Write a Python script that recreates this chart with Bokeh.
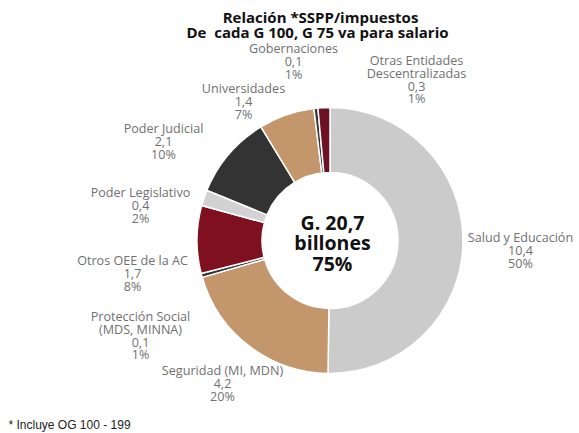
import math
from bokeh.plotting import figure
from bokeh.models import ColumnDataSource
from bokeh.core.properties import value
from bokeh.embed import file_html
from bokeh.resources import INLINE

# ---- data ----
categories = ["Salud y Educación", "Seguridad (MI, MDN)", "Protección Social\n(MDS, MINNA)",
              "Otros OEE de la AC", "Poder Legislativo", "Poder Judicial", "Universidades",
              "Gobernaciones", "Otras Entidades\nDescentralizadas"]
values = [10.4, 4.2, 0.1, 1.7, 0.4, 2.1, 1.4, 0.1, 0.3]
percents = [50, 20, 1, 8, 2, 10, 7, 1, 1]
colors = ["#cbcbcb", "#c3976b", "#333333", "#7e1020", "#d2d2d2", "#333333", "#c3976b",
          "#333333", "#6e1124"]
center_lines = ["G. 20,7", "billones", "75%"]
title_lines = ["Relación *SSPP/impuestos", "De\u00a0 cada G 100, G 75 va para salario"]
footnote = "* Incluye OG 100 - 199"

W, H = 579, 433
def X(px): return px
def Y(py): return H - py

total = sum(values)
starts, ends = [], []
cum = 0.0
for v in values:
    a0 = math.pi / 2 - 2 * math.pi * cum / total
    cum += v
    a1 = math.pi / 2 - 2 * math.pi * cum / total
    starts.append(a1)
    ends.append(a0)

src = ColumnDataSource(dict(cat=categories, val=values, start=starts, end=ends, color=colors))

p = figure(width=W, height=H, x_range=(0, W), y_range=(0, H), output_backend="svg",
           toolbar_location=None, min_border=0)
p.axis.visible = False
p.grid.visible = False
p.outline_line_color = None
p.background_fill_color = "white"

cx, cy = X(329.5), Y(240)
p.annular_wedge(x=cx, y=cy, inner_radius=68, outer_radius=133, start_angle="start",
                end_angle="end", fill_color="color", line_color="white", line_width=1.5,
                source=src)

# labels: (center x, top line y) in image pixels
label_pos = [(520, 237), (222, 370), (140, 316), (132, 260), (140, 192), (163, 128),
             (243, 88), (293, 48), (416, 60)]
lx, ly, lt = [], [], []
for cat, v, pc, (px, py) in zip(categories, values, percents, label_pos):
    lines = cat.split("\n") + [f"{v:.1f}".replace(".", ","), f"{pc}%"]
    for i, ln in enumerate(lines):
        lx.append(X(px))
        ly.append(Y(py + i * 12.8))
        lt.append(ln)
p.text(x=lx, y=ly, text=lt, text_font=value("Open Sans"), text_font_size="12.6px",
       text_color="#707070", text_align="center", text_baseline="middle")

# center text
p.text(x=[X(332)] * 3, y=[Y(222), Y(242), Y(263)], text=center_lines,
       text_font=value("Open Sans"), text_font_style="bold", text_font_size="19.5px",
       text_color="#111111", text_align="center", text_baseline="middle")

# title
p.text(x=[X(320), X(317)], y=[Y(16), Y(31)], text=title_lines,
       text_font=value("Open Sans"), text_font_style="bold", text_font_size="15px",
       text_color="#111111", text_align="center", text_baseline="middle")

# footnote
p.text(x=[X(8)], y=[Y(424)], text=[footnote], text_font=value("Liberation Sans"),
       text_font_size="12px", text_color="#222222", text_align="left",
       text_baseline="middle")

open("out.html", "w").write(file_html(p, INLINE))
